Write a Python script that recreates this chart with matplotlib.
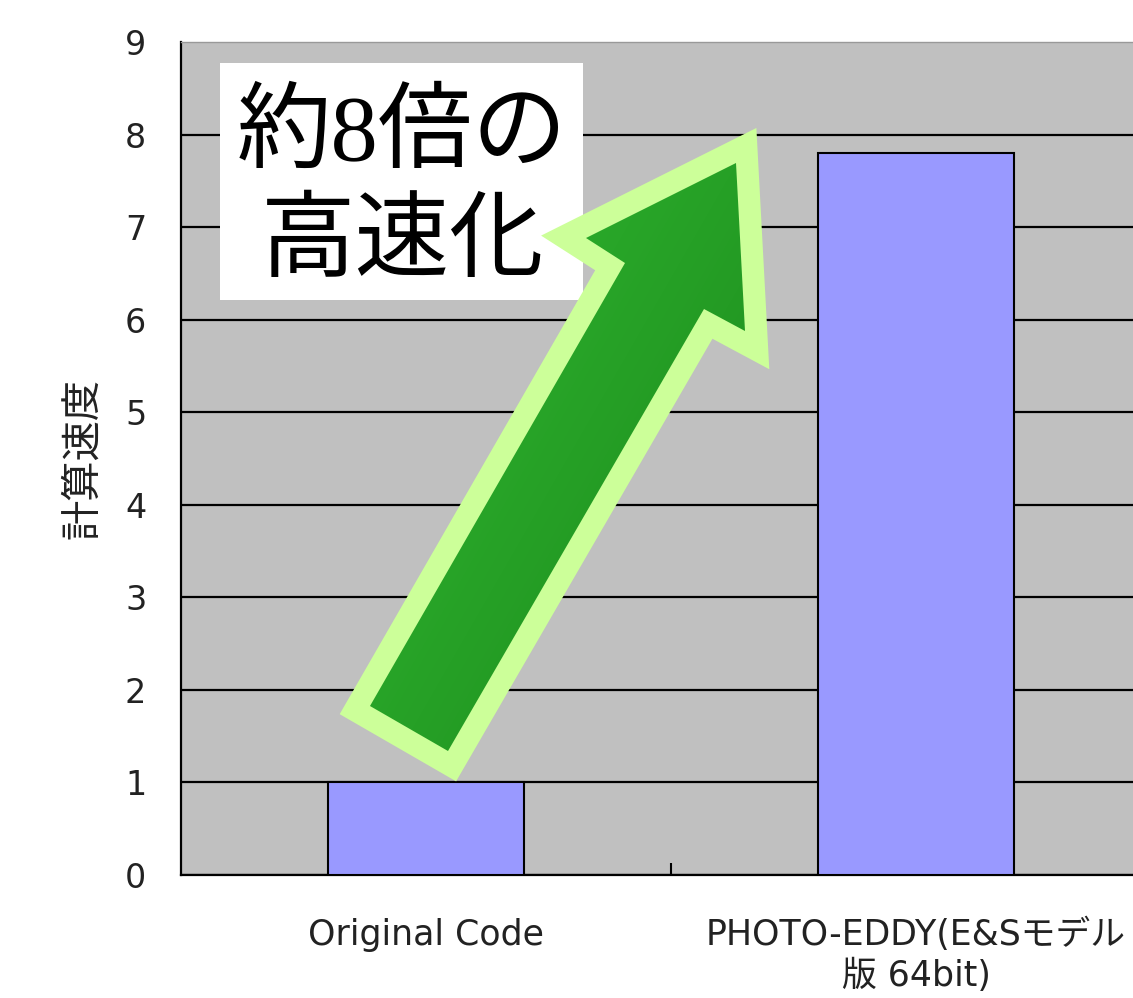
import numpy as np
import matplotlib
matplotlib.use('Agg')
import matplotlib.pyplot as plt
from matplotlib.patches import Polygon, Rectangle

# data
categories = ['Original Code', 'PHOTO-EDDY(E&Sモデル\n版 64bit)']
speed = [1.0, 7.8]
yticks = list(range(0, 10))
ylabel = '計算速度'
note_lines = ['約8倍の', '高速化']

W, H = 1133, 998
fig = plt.figure(figsize=(W / 100, H / 100), dpi=100)
fig.patch.set_facecolor('white')

tick_font = ['DejaVu Sans', 'Noto Sans CJK JP']

ax = fig.add_axes([181 / W, 1 - 875 / H, (1161 - 181) / W, (875 - 42) / H])
ax.set_facecolor('#C0C0C0')
x = np.arange(len(categories))
ax.bar(x, speed, width=0.4, color='#9999FF', edgecolor='black', linewidth=1.5, zorder=3)
ax.set_xlim(-0.5, 1.5)
ax.set_ylim(0, 9)
ax.set_yticks(yticks)
ax.set_yticklabels([str(v) for v in yticks], fontsize=24, color='#222222', family=tick_font)
ax.set_xticks(x)
ax.set_xticklabels(categories, fontsize=25, color='#222222', family=tick_font, linespacing=1.25)
ax.set_xticks([0.5], minor=True)
ax.tick_params(axis='y', length=0, pad=25)
ax.tick_params(axis='x', which='major', length=0, pad=31)
ax.tick_params(axis='x', which='minor', direction='in', length=9, width=1.5, color='black')
ax.set_axisbelow(True)
ax.yaxis.grid(True, color='black', linewidth=1.6, zorder=1)
ax.get_ygridlines()[-1].set_visible(False)
ax.set_ylabel(ylabel, fontsize=29, family=['Noto Sans CJK JP'], color='#222222', labelpad=16)
for s in ['left', 'bottom']:
    ax.spines[s].set_color('black')
    ax.spines[s].set_linewidth(1.6)
ax.spines['top'].set_color('#999999')
ax.spines['top'].set_linewidth(1.0)
ax.spines['right'].set_visible(False)

# overlay for the annotation (pixel coordinates, y down)
ov = fig.add_axes([0, 0, 1, 1])
ov.set_xlim(0, W)
ov.set_ylim(H, 0)
ov.axis('off')
ov.patch.set_alpha(0)

ov.add_patch(Rectangle((220, 63), 363, 237, facecolor='white', edgecolor='none', zorder=1))
ov.text(402, 136, note_lines[0], fontsize=68, ha='center', va='center',
        family=['Liberation Serif', 'Noto Sans CJK JP'], color='black', zorder=2)
ov.text(403, 242, note_lines[1], fontsize=68, ha='center', va='center',
        family=['Noto Sans CJK JP'], color='black', zorder=2)

arrow_pts = np.array([[736, 163], [745, 331], [704, 309], [448, 751],
                      [370, 706], [625, 263], [586, 238]])
outline = Polygon(arrow_pts, closed=True, facecolor='#CCFF99', edgecolor='#CCFF99',
                  linewidth=32, joinstyle='miter', zorder=3)
ov.add_patch(outline)
fill = Polygon(arrow_pts, closed=True, facecolor='none', edgecolor='none', zorder=4)
ov.add_patch(fill)

gx, gy = np.meshgrid(np.linspace(360, 760, 200), np.linspace(150, 760, 300))
g = gx * 0.87 + gy * 0.5
g = (g - g.min()) / (g.max() - g.min())
c1 = np.array([0.19, 0.73, 0.19])
c2 = np.array([0.11, 0.53, 0.11])
img = c1[None, None, :] * (1 - g[..., None]) + c2[None, None, :] * g[..., None]
im = ov.imshow(img, extent=(360, 760, 760, 150), zorder=4, interpolation='bilinear')
im.set_clip_path(fill)
ov.set_xlim(0, W)
ov.set_ylim(H, 0)

fig.savefig('out.png', dpi=100)
